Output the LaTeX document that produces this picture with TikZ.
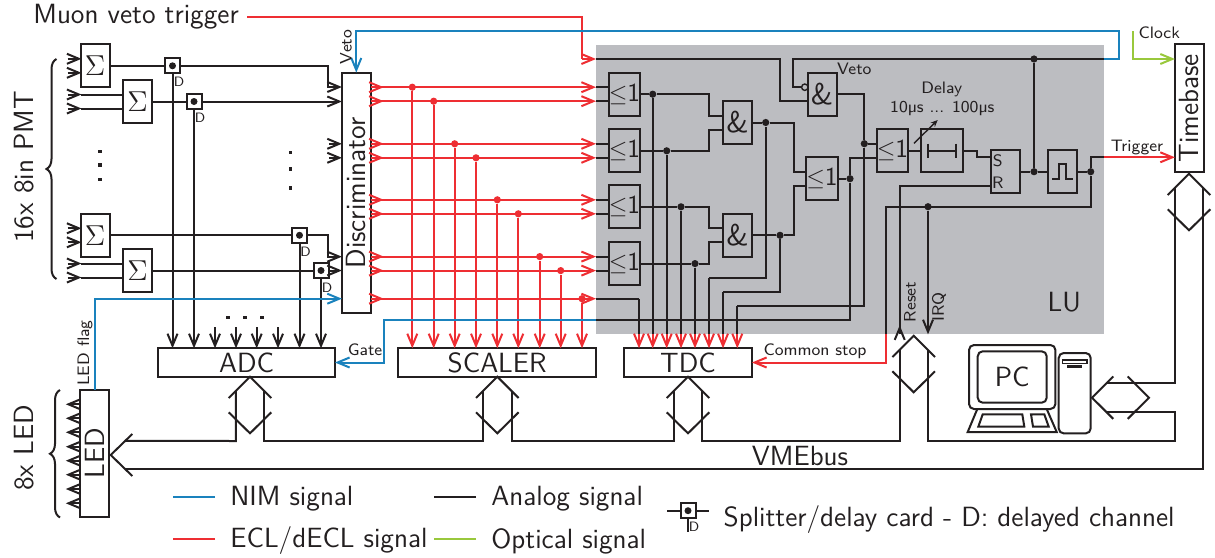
\documentclass[tikz,border=0pt]{standalone}
\usepackage{fontspec}
\renewcommand{\familydefault}{\sfdefault}
\definecolor{SigBlack}{HTML}{231F20}
\definecolor{SigBlue}{HTML}{1A82BD}
\definecolor{SigRed}{HTML}{EE2E33}
\definecolor{SigGreen}{HTML}{99C83C}
\definecolor{LuGray}{HTML}{BCBDC1}
\usetikzlibrary{arrows.meta, calc, decorations.pathreplacing}
\newcommand{\bigfont}{\fontsize{13.9}{16}\selectfont}
\newcommand{\gatefont}{\fontsize{15}{17}\selectfont}
\newcommand{\orfont}{\fontsize{13}{15}\selectfont}
\newcommand{\tagfont}{\fontsize{8.3}{10}\selectfont}
\newcommand{\dfont}{\fontsize{6.8}{8}\selectfont}
\tikzset{
    % Boxes
    block/.style={
        rectangle,
        draw=SigBlack,
        text=SigBlack,
        line width=1pt,
        inner sep=0pt,
        outer sep=0pt,
        align=center,
        font=\bigfont
    },
    gate/.style={
        block,
        minimum width=14.5pt,
        minimum height=21.5pt
    },
    bar/.style={
        block,
        minimum height=14.2pt
    },
    tall/.style={
        block,
        minimum width=14.4pt
    },
    splitter/.style={
        block,
        fill=white,
        minimum width=7.5pt,
        minimum height=7.5pt,
        path picture={\fill[SigBlack] (path picture bounding box.center) circle (1.75pt);}
    },
    lu box/.style={
        rectangle,
        fill=LuGray,
        minimum width=254.2pt,
        minimum height=144.7pt,
        inner sep=0pt,
        outer sep=0pt
    },
    screen part/.style={
        block,
        rounded corners=2.5pt
    },
    % Texts
    big text/.style={font=\bigfont, text=SigBlack, inner sep=0pt},
    tag text/.style={font=\tagfont, text=SigBlack, inner sep=0pt},
    d text/.style={font=\dfont, text=SigBlack, inner sep=0pt},
    % Dots
    joint/.style={circle, fill=SigBlack, inner sep=0pt, minimum size=3.6pt},
    red joint/.style={circle, fill=SigRed, inner sep=0pt, minimum size=3.6pt},
    ellipsis dot/.style={rectangle, fill=SigBlack, inner sep=0pt, minimum size=1.7pt},
    % Signals
    analog/.style={draw=SigBlack, line width=1pt, line join=miter},
    ecl/.style={draw=SigRed, line width=1pt, line join=miter},
    nim/.style={draw=SigBlue, line width=1pt, line join=miter},
    optical/.style={draw=SigGreen, line width=1pt, line join=miter},
    tip/.style={-{Straight Barb[length=6pt,width=5pt,line width=1pt]}},
    % Bus arrows
    vbus/.pic={
        \draw[analog] (-21.3,-7) -- (0,-28.3) -- (21.3,-7);
        \draw[analog] (-21.3,7.3) -- (0,28.3) -- (21.3,7.3);
        \coordinate (-l) at (-14.2,-14.1);
        \coordinate (-r) at (14.2,-14.1);
        \coordinate (-lb) at (-14.2,36);
        \coordinate (-rb) at (14.2,36);
    },
    hbus/.pic={
        \draw[analog] (-7.2,-21.2) -- (-28.5,0) -- (-7.2,21.2);
        \draw[analog] (7.2,-21.2) -- (28.5,0) -- (7.2,21.2);
        \coordinate (-t) at (-14.3,-14.3);
        \coordinate (-b) at (-14.3,14);
    },
    ledhead/.pic={
        \draw[analog] (21.6,-21) -- (0,0) -- (21.6,21);
        \coordinate (-t) at (14.2,-14.1);
        \coordinate (-b) at (14.2,14);
    }
}

\begin{document}
\begin{tikzpicture}[x=0.5pt, y=-0.5pt]
        \useasboundingbox (0,0) rectangle (1215,557);

        % Logic unit background
        \node[lu box] (lu) at (850.2,189.6) {};
        \node[big text] (lulabel) at (1064.3,301.7) {LU};

        % Side texts
        \node[big text, anchor=west] (muon) at (33,17) {Muon veto trigger};
        \node[big text, rotate=90] (pmtlabel) at (24,167) {16x 8in PMT};
        \node[big text, rotate=90] (ledlabel) at (24,448) {8x LED};
        \draw[analog, decorate, decoration={brace,amplitude=5pt}] (56.5,279) -- (56.5,59);
        \draw[analog, decorate, decoration={brace,amplitude=5pt}] (60,517.5) -- (60,390);

        % PMT sums
        \foreach \n/\x/\y in {sig1/95/65.8, sig2/137.5/101.5, sig3/95/235.3, sig4/137.5/270.5} {
            \node[gate] (\n) at (\x,\y) {\gatefont$\Sigma$};
            \coordinate (\n a) at ($(\n.west)+(0,-7)$);
            \coordinate (\n b) at ($(\n.west)+(0,7)$);
        }

        % Big boxes
        \node[tall, minimum height=120.4pt] (disc) at (356.3,193) {\rotatebox{90}{Discriminator}};
        \node[tall, minimum height=63.8pt] (timebase) at (1189.3,108.2) {\rotatebox{90}{Timebase}};
        \node[tall, minimum height=63.4pt] (led) at (94.8,453.3) {\rotatebox{90}{LED}};
        \node[bar, minimum width=88.4pt] (adc) at (246.6,362.5) {ADC};
        \node[bar, minimum width=98.9pt] (scaler) at (497.2,362.5) {SCALER};
        \node[bar, minimum width=64pt] (tdc) at (688,362.5) {TDC};

        % Gates on the grey area
        \foreach \n/\x/\y/\t in {or1/624.5/94.2/{\orfont$\leq$1}, or2/624.5/150.8/{\orfont$\leq$1}, or3/624.5/206.8/{\orfont$\leq$1}, or4/624.5/263.6/{\orfont$\leq$1}, anda/737.5/122.5/{\gatefont\&}, andb/737.5/235.3/{\gatefont\&}, and3/822/94.2/{\gatefont\&}, orc/822/178.7/{\orfont$\leq$1}, ord/892.5/150.7/{\orfont$\leq$1}} {
            \node[gate] (\n) at (\x,\y) {\t};
            \coordinate (\n a) at ($(\n.west)+(0,-7)$);
            \coordinate (\n b) at ($(\n.west)+(0,7)$);
        }
        \node[gate, minimum width=21.3pt] (delay) at (942,150.7) {};
        \node[gate] (sr) at (1005.5,171.7) {};
        \node[gate] (pulse) at (1062.5,171.7) {};
        \coordinate (srs) at ($(sr.west)+(0,-14.3)$);
        \coordinate (srr) at ($(sr.west)+(0,14.3)$);
        \node[tag text] (stext) at (997.7,160.3) {S};
        \node[tag text] (rtext) at (997.7,182.7) {R};
        \draw[analog] ($(delay)+(-14,0)$) -- ($(delay)+(14.3,0)$);
        \draw[analog] ($(delay)+(-14,-7)$) -- ($(delay)+(-14,7)$);
        \draw[analog] ($(delay)+(14.3,-7)$) -- ($(delay)+(14.3,7)$);
        \draw[analog] ($(pulse)+(-10.2,7.3)$) -- ++(6.7,0) -- ++(0,-15) -- ++(6.7,0) -- ++(0,15) -- ++(7,0);
        \draw[draw=SigBlack, line width=0.7pt, -{Stealth[length=3.5pt,width=3pt]}] ($(delay)+(-28,-7.4)$) -- ($(delay)+(-4.3,-30.7)$);
        \node[tag text] (delaytext) at (941.7,89) {Delay};
        \node[tag text] (rangetext) at (942.3,108.3) {10\textmu s ... 100\textmu s};

        % Splitters
        \node[splitter] (sp1) at (172.5,65.8) {};
        \node[splitter] (sp2) at (194,101.5) {};
        \node[splitter] (sp3) at (299.5,235.3) {};
        \node[splitter] (sp4) at (321,270.5) {};
        \foreach \n/\x/\y in {d1/179/82, d2/200/118, d3/305.5/252, d4/327/288} {
            \node[d text] (\n) at (\x,\y) {D};
        }

        % PMT inputs
        \foreach \n in {sig1a, sig1b, sig2a, sig2b, sig3a, sig3b, sig4a, sig4b} {
            \draw[analog, tip] ($(\n -| sig1.west)+(-13,0)$) -- ($(\n -| sig1.west)+(1,0)$);
            \draw[analog] (\n -| sig1.west) -- (\n);
        }

        % Sums to discriminator
        \coordinate (kinka) at (328,87);
        \coordinate (kinkb) at (328,256.7);
        \draw[analog] (sig1.east) -- (sp1.west);
        \draw[analog, tip] (sp1.east) -| (kinka) -- (kinka -| disc.west);
        \draw[analog] (sig2.east) -- (sp2.west);
        \draw[analog, tip] (sp2.east) -- (sp2 -| disc.west);
        \draw[analog] (sig3.east) -- (sp3.west);
        \draw[analog, tip] (sp3.east) -| (kinkb) -- (kinkb -| disc.west);
        \draw[analog] (sig4.east) -- (sp4.west);
        \draw[analog, tip] (sp4.east) -- (sp4 -| disc.west);
        \foreach \n in {or2a, or2b} {
            \draw[analog, tip] ($(\n -| disc.west)+(-13,0)$) -- (\n -| disc.west);
        }

        % Into the ADC
        \foreach \n in {sp1, sp2, sp3, sp4} {
            \draw[analog, tip] (\n.south) -- (\n |- adc.north);
        }
        \foreach \n/\x in {a1/215, a2/236, a3/256.7, a4/278} {
            \coordinate (\n) at (\x,327);
            \draw[analog, tip] (\n) -- (\n |- adc.north);
        }
        \foreach \n/\x in {e1/228, e2/245, e3/262} {
            \node[ellipsis dot] (\n) at (\x,317.7) {};
        }
        \foreach \n/\x/\y in {p1/100/151.7, p2/100/165, p3/100/179.3, q1/290.7/152.3, q2/290.7/169, q3/290.7/188} {
            \node[ellipsis dot] (\n) at (\x,\y) {};
        }

        % ECL rows
        \coordinate (lastrow) at (500,298.7);
        \foreach \n in {or1a, or1b, or2a, or2b, or3a, or3b, or4a, or4b, lastrow} {
            \draw[ecl, tip] (disc.east |- \n) -- ($(disc.east |- \n)+(13,0)$);
            \draw[ecl, tip] (disc.east |- \n) -- (lu.west |- \n);
        }
        \foreach \n in {or1a, or1b, or2a, or2b, or3a, or3b, or4a, or4b} {
            \draw[analog] (lu.west |- \n) -- (\n);
        }
        \foreach \n/\x in {or1a/412.3, or1b/433.7, or2a/454.7, or2b/476, or3a/497.3, or3b/518.3, or4a/539.7, or4b/560.7, lastrow/582} {
            \node[red joint] (r\n) at (\x,0 |- \n) {};
            \draw[ecl, tip] (r\n) -- (r\n |- scaler.north);
        }

        % Veto line
        \coordinate (muonbend) at (582,59);
        \coordinate (vetokink) at (780,59);
        \coordinate (vetoknee) at (793.3,59);
        \coordinate (vetoright) at (1119,30.5);
        \coordinate (vetotop) at (disc.north |- vetoright);
        \node[circle, draw=SigBlack, fill=LuGray, line width=0.7pt, inner sep=0pt, minimum size=3.2pt] (inv) at ($(and3a)+(-2.7,0)$) {};
        \draw[ecl] ([xshift=4pt]muon.east) -| (muonbend);
        \draw[ecl, tip] (muonbend) -- (lu.west |- muonbend);
        \draw[analog] (lu.west |- muonbend) -- (vetokink) |- (and3b);
        \draw[analog] (lu.east |- muonbend) -- (vetoknee) |- (inv.west);
        \draw[nim, tip] (lu.east |- muonbend) -| (vetoright) -- (vetotop) -- (disc.north);
        \node[tag text, rotate=90] (vetotext) at (346,47) {Veto};
        \node[tag text] (vetotextb) at (854.3,69.3) {Veto};

        % First gate layer
        \coordinate (kink) at (709,0);
        \coordinate (kinkc) at (794,0);
        \node[joint] (j1) at (652.7,0 |- or1) {};
        \node[joint] (j2) at (666.7,0 |- or2) {};
        \node[joint] (j3) at (681,0 |- or3) {};
        \node[joint] (j4) at (695,0 |- or4) {};
        \draw[analog] (or1.east) -- (j1) -- (kink |- j1) |- (andaa);
        \draw[analog] (or2.east) -- (j2) -- (kink |- j2) |- (andab);
        \draw[analog] (or3.east) -- (j3) -- (kink |- j3) |- (andba);
        \draw[analog] (or4.east) -- (j4) -- (kink |- j4) |- (andbb);

        % Second gate layer
        \node[joint] (j5) at (765.7,0 |- anda) {};
        \node[joint] (j6) at (780,0 |- andb) {};
        \node[joint] (j7) at (850,0 |- orc) {};
        \node[joint] (j8) at (864.3,0 |- orda) {};
        \draw[analog] (anda.east) -- (j5) -- (kinkc |- j5) |- (orca);
        \draw[analog] (andb.east) -- (j6) -- (kinkc |- j6) |- (orcb);
        \draw[analog] (orc.east) -- (j7) |- (ordb);
        \draw[analog] (and3.east) -| (j8) -- (orda);

        % Down to the TDC
        \coordinate (tdc1) at (639,0 |- lastrow);
        \coordinate (tdc6) at (709,277.7);
        \coordinate (tdc7) at (723,291.7);
        \coordinate (tdc8) at (737.3,306);
        \coordinate (gaterow) at (384.3,320);
        \draw[analog] (lu.west |- lastrow) -- (tdc1);
        \draw[analog] (j5) |- (tdc6);
        \draw[analog] (j6) |- (tdc7);
        \draw[analog] (j8) |- (tdc8);
        \foreach \n in {tdc1, j1, j2, j3, j4, tdc6, tdc7, tdc8} {
            \draw[analog] (\n) -- (\n |- lu.south);
            \draw[ecl, tip] (\n |- lu.south) -- (\n |- tdc.north);
        }
        \draw[analog] (j7) |- (lu.west |- gaterow);
        \draw[nim, tip] (lu.west |- gaterow) -- (gaterow) |- (adc.east);
        \node[tag text] (gatetext) at (365,350) {Gate};

        % Trigger and common stop
        \node[joint] (jsr) at (1034,171.7) {};
        \node[joint] (jtop) at (1034,59) {};
        \node[joint] (jp) at (1090.7,171.7) {};
        \node[joint] (jirq) at (928,206.7) {};
        \coordinate (delaykink) at (977.3,150.7);
        \coordinate (stoprow) at (885.7,206.7);
        \coordinate (trigout) at (1104.3,157.3);
        \coordinate (resettail) at (899.7,334.3);
        \draw[analog] (ord.east) -- (delay.west);
        \draw[analog] (delay.east) -- (delaykink) |- (srs);
        \draw[analog] (sr.east) -- (jsr) -- (pulse.west);
        \draw[analog] (jsr) -- (jtop);
        \draw[analog] (pulse.east) -- (jp) |- (trigout);
        \draw[ecl, tip] (trigout) -- (trigout -| timebase.west);
        \draw[analog] (jp) |- (stoprow) -- (stoprow |- lu.south);
        \draw[ecl, tip] (stoprow |- lu.south) |- (tdc.east);
        \draw[analog, tip] (jirq) -- (jirq |- lu.south);
        \draw[analog] (srr) -| (resettail);
        \draw[analog, tip] (resettail) -- ++(0,-9);
        \node[tag text] (triggertext) at (1137,147) {Trigger};
        \node[tag text] (stoptext) at (815,351.7) {Common stop};
        \node[tag text, rotate=90] (resettext) at (910,302) {Reset};
        \node[tag text, rotate=90] (irqtext) at (939,307) {IRQ};

        % Clock
        \coordinate (clocktop) at (1132.7,31);
        \draw[optical, tip] (clocktop) |- (timebase.west |- muonbend);
        \node[tag text] (clocktext) at (1159.3,33) {Clock};

        % LED flag
        \draw[nim, tip] (led.north) |- (lastrow -| disc.west);
        \node[tag text, rotate=90] (flagtext) at (85,353) {LED flag};
        \foreach \n/\y in {l1/404.3, l2/418.3, l3/432.3, l4/446.7, l5/460.7, l6/474.7, l7/489, l8/503.3} {
            \coordinate (\n) at (80.3,\y);
            \draw[analog, tip] (\n) -- ++(-14.5,0);
        }

        % VME bus
        \pic (adcbus) at (250,405) {vbus};
        \pic (scalerbus) at (497.3,405) {vbus};
        \pic (tdcbus) at (688,405) {vbus};
        \pic (lubus) at (913.7,364) {vbus};
        \pic (tbbus) at (1189,202) {vbus};
        \pic (pcbus) at (1120.5,397.7) {hbus};
        \pic (ledtip) at (110.7,455) {ledhead};
        \draw[analog] (ledtip-t) -- (adcbus-lb) -- (adcbus-l);
        \draw[analog] (adcbus-r) -- (adcbus-rb) -- (scalerbus-lb) -- (scalerbus-l);
        \draw[analog] (scalerbus-r) -- (scalerbus-rb) -- (tdcbus-lb) -- (tdcbus-l);
        \draw[analog] (tdcbus-r) -- (tdcbus-rb) -| (lubus-l);
        \draw[analog] (lubus-r) -- (lubus-r |- tdcbus-rb) -| (tbbus-l |- pcbus-b) -- (pcbus-b);
        \draw[analog] (tbbus-l) |- (pcbus-t);
        \draw[analog] (tbbus-r) |- (ledtip-b);
        \node[big text] (vmetext) at (800,456) {VMEbus};

        % PC
        \node[screen part, minimum width=43.2pt, minimum height=32pt] (monitor) at (1012.2,377) {};
        \node[screen part, minimum width=34.5pt, minimum height=25.7pt] (pcscreen) at (1012.2,377) {PC};
        \node[screen part, minimum width=16pt, minimum height=40.2pt] (tower) at (1074.7,393.2) {};
        \draw[analog] (977.3,409) -- (967.7,432) -- (1056.7,432) -- (1046.7,409);
        \draw[analog] (982.7,414.3) -- (978.3,426.7) -- (1024.3,426.7) -- (1022.3,414.3) -- cycle;
        \draw[analog] (1031,414.3) -- (1033,426.7) -- (1048.7,426.7) -- (1044.3,414.3) -- cycle;
        \draw[analog, line width=0.6pt] (1062.3,360) rectangle (1087,363.3);
        \fill[SigBlack] (1067.3,365) rectangle (1082,367.5);

        % Legend
        \node[big text, anchor=west] (nimtext) at (230,499) {NIM signal};
        \node[big text, anchor=west] (ecltext) at (230,541) {ECL/dECL signal};
        \node[big text, anchor=west] (analogtext) at (491,499) {Analog signal};
        \node[big text, anchor=west] (opticaltext) at (491,541) {Optical signal};
        \node[big text, anchor=west] (splittext) at (723.3,520) {Splitter/delay card - D: delayed channel};
        \coordinate (nimline) at (215,497);
        \coordinate (eclline) at (215,539);
        \coordinate (analogline) at (476,497);
        \coordinate (opticalline) at (476,539);
        \draw[nim] (nimline) -- ++(-42.3,0);
        \draw[ecl] (eclline) -- ++(-42.3,0);
        \draw[analog] (analogline) -- ++(-42,0);
        \draw[optical] (opticalline) -- ++(-42,0);
        \node[splitter] (sp5) at (688,510.7) {};
        \draw[analog] (sp5.west) -- ++(-13.2,0);
        \draw[analog] (sp5.east) -- ++(13.2,0);
        \draw[analog] (sp5.south) -- ++(0,13.5);
        \node[d text] (d5) at (694,527) {D};
    \end{tikzpicture}
\end{document}
